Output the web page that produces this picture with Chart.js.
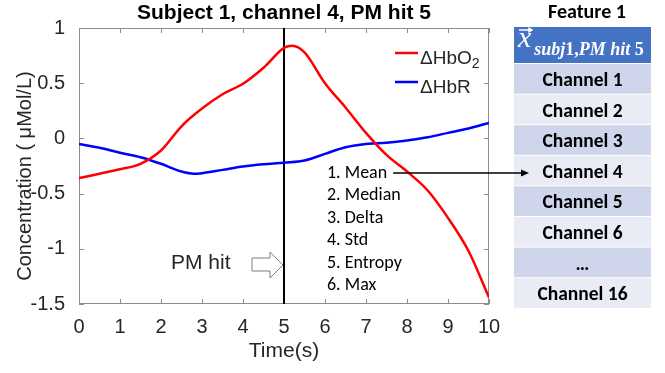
<!DOCTYPE html>
<html>
<head>
<meta charset="utf-8">
<script src="https://cdn.jsdelivr.net/npm/chart.js@4.4.1/dist/chart.umd.min.js"></script>
<style>
  html, body { margin: 0; padding: 0; background: #fff; }
  canvas { display: block; }
</style>
</head>
<body>
<canvas id="chart" width="665" height="373"></canvas>
<script>
"use strict";

// data
const timeHbO2 = [0, 0.5, 1, 1.5, 2, 2.5, 3, 3.5, 4, 4.5, 5, 5.2, 5.5, 6, 6.5, 7, 7.5, 8, 8.5, 9, 9.5, 10];
const valuesHbO2 = [-0.36, -0.32, -0.28, -0.23, -0.11, 0.11, 0.27, 0.40, 0.495, 0.64, 0.82, 0.84, 0.78, 0.50, 0.28, 0.05, -0.15, -0.30, -0.47, -0.72, -1.02, -1.44];
const timeHbR = [0, 0.5, 1, 1.5, 2, 2.5, 2.8, 3, 3.5, 4, 4.5, 5, 5.5, 6, 6.5, 7, 7.5, 8, 8.5, 9, 9.5, 10];
const valuesHbR = [-0.05, -0.085, -0.13, -0.17, -0.23, -0.30, -0.32, -0.315, -0.285, -0.255, -0.235, -0.22, -0.20, -0.14, -0.08, -0.05, -0.04, -0.02, 0.01, 0.05, 0.09, 0.14];
const xTicks = [0, 1, 2, 3, 4, 5, 6, 7, 8, 9, 10];
const yTicks = [-1.5, -1, -0.5, 0, 0.5, 1];
const hitTime = 5;

const chartTitle = "Subject 1, channel 4, PM hit 5";
const yTitle = "Concentration ( \u03bcMol/L)";
const legendItems = [
    { label: "\u0394HbO", sub: "2", color: "#ff0000" },
    { label: "\u0394HbR", sub: "", color: "#0000ff" }
];
const featureItems = ["1. Mean", "2. Median", "3. Delta", "4. Std", "5. Entropy", "6. Max"];
const tableTitle = "Feature 1";
const tableRows = ["Channel 1", "Channel 2", "Channel 3", "Channel 4", "Channel 5", "Channel 6", "\u2026", "Channel 16"];

const ARIAL = 'Arial, "Liberation Sans", sans-serif';
const CALIBRI = 'Carlito, Calibri, Lato, sans-serif';
const SERIF = '"Liberation Serif", "Times New Roman", serif';
const textColor = "#262626";

const toPoints = (xs, ys) => xs.map((t, i) => ({ x: t, y: ys[i] }));

const line = (ctx, x1, y1, x2, y2) => {
    ctx.beginPath();
    ctx.moveTo(x1, y1);
    ctx.lineTo(x2, y2);
    ctx.stroke();
};

const drawHeaderMath = (ctx, left, baseline) => {
    ctx.fillStyle = "#ffffff";
    ctx.strokeStyle = "#ffffff";
    ctx.textBaseline = "alphabetic";
    ctx.textAlign = "left";
    ctx.font = `italic 30px ${SERIF}`;
    ctx.fillText("x", left, baseline);
    const xw = ctx.measureText("x").width;
    // vector arrow over the x
    ctx.lineWidth = 1.5;
    line(ctx, left + 1, baseline - 17, left + xw + 1, baseline - 17);
    ctx.beginPath();
    ctx.moveTo(left + xw + 2, baseline - 17);
    ctx.lineTo(left + xw - 3, baseline - 20);
    ctx.lineTo(left + xw - 3, baseline - 14);
    ctx.closePath();
    ctx.fill();
    const parts = [
        ["subj", "italic bold"], ["1,", "bold"], ["PM", "italic bold"], [" ", "bold"],
        ["hit", "italic bold"], [" ", "bold"], ["5", "bold"]
    ];
    let px = left + xw + 3;
    parts.forEach(([s, st]) => {
        ctx.font = `${st} 18px ${SERIF}`;
        ctx.fillText(s, px, baseline + 8);
        px += ctx.measureText(s).width;
    });
};

const overlay = {
    id: "overlay",
    beforeDatasetsDraw(chart) {
        const { ctx, chartArea: a, scales: { x, y } } = chart;
        ctx.save();
        ctx.strokeStyle = "#8c8c8c";
        ctx.lineWidth = 1;
        ctx.strokeRect(a.left + 0.5, a.top + 0.5, a.right - a.left - 1, a.bottom - a.top - 1);
        x.ticks.forEach((t) => {
            const px = Math.round(x.getPixelForValue(t.value)) + 0.5;
            line(ctx, px, a.bottom, px, a.bottom - 5);
            line(ctx, px, a.top, px, a.top + 5);
        });
        y.ticks.forEach((t) => {
            const py = Math.round(y.getPixelForValue(t.value)) + 0.5;
            line(ctx, a.left, py, a.left + 5, py);
            line(ctx, a.right, py, a.right - 5, py);
        });
        // PM hit marker
        const hx = x.getPixelForValue(hitTime);
        ctx.strokeStyle = "#000000";
        ctx.lineWidth = 2;
        line(ctx, hx, a.top, hx, a.bottom);
        ctx.restore();
    },
    afterDatasetsDraw(chart) {
        const { ctx, chartArea: a, scales: { x } } = chart;
        ctx.save();

        // title
        ctx.fillStyle = "#000000";
        ctx.font = `bold 21px ${ARIAL}`;
        ctx.textAlign = "center";
        ctx.textBaseline = "alphabetic";
        ctx.fillText(chartTitle, (a.left + a.right) / 2, 19);

        // y axis title
        ctx.save();
        ctx.translate(31, 176);
        ctx.rotate(-Math.PI / 2);
        ctx.fillStyle = textColor;
        ctx.font = `20px ${ARIAL}`;
        ctx.fillText(yTitle, 0, 0);
        ctx.restore();

        // legend
        legendItems.forEach((item, i) => {
            const ly = 53 + i * 29;
            ctx.strokeStyle = item.color;
            ctx.lineWidth = 2.5;
            line(ctx, 395, ly, 418, ly);
            ctx.fillStyle = textColor;
            ctx.textAlign = "left";
            ctx.font = `19px ${ARIAL}`;
            ctx.fillText(item.label, 420, ly + 11);
            if (item.sub) {
                const w = ctx.measureText(item.label).width;
                ctx.font = `14px ${ARIAL}`;
                ctx.fillText(item.sub, 420 + w, ly + 15);
            }
        });

        // PM hit label and hollow arrow
        const hx = x.getPixelForValue(hitTime);
        ctx.fillStyle = textColor;
        ctx.font = `21px ${ARIAL}`;
        ctx.textAlign = "left";
        ctx.fillText("PM hit", 171, 269);
        ctx.beginPath();
        ctx.moveTo(hx - 32, 258);
        ctx.lineTo(hx - 14, 258);
        ctx.lineTo(hx - 14, 252);
        ctx.lineTo(hx - 1, 265);
        ctx.lineTo(hx - 14, 278);
        ctx.lineTo(hx - 14, 271);
        ctx.lineTo(hx - 32, 271);
        ctx.closePath();
        ctx.fillStyle = "#ffffff";
        ctx.fill();
        ctx.strokeStyle = "#7f7f7f";
        ctx.lineWidth = 1;
        ctx.stroke();

        // feature list
        ctx.fillStyle = "#000000";
        ctx.font = `18px ${CALIBRI}`;
        featureItems.forEach((s, i) => {
            ctx.fillText(s, 327, 178 + i * 22.4);
        });
        const mw = ctx.measureText(featureItems[0]).width;

        // table
        const tl = 514, tr = 651, tw = tr - tl;
        ctx.font = `bold 20px ${CALIBRI}`;
        ctx.textAlign = "center";
        ctx.fillText(tableTitle, 587, 18);
        ctx.fillStyle = "#4472c4";
        ctx.fillRect(tl, 27, tw, 36);
        drawHeaderMath(ctx, 518, 47);
        const rowTop = 64, rowH = 30.6;
        tableRows.forEach((s, i) => {
            const top = rowTop + i * rowH;
            ctx.fillStyle = i % 2 === 0 ? "#cfd5ea" : "#e9ebf5";
            ctx.fillRect(tl, top, tw, rowH - 1);
            ctx.fillStyle = "#000000";
            ctx.font = `bold 19.5px ${CALIBRI}`;
            ctx.textAlign = "center";
            ctx.fillText(s, (tl + tr) / 2, top + 22);
        });

        // arrow from Mean to the channel row
        const ay = 173;
        ctx.strokeStyle = "#000000";
        ctx.lineWidth = 1.5;
        line(ctx, 327 + mw + 6, ay, 522, ay);
        ctx.fillStyle = "#000000";
        ctx.beginPath();
        ctx.moveTo(529, ay);
        ctx.lineTo(521, ay - 3.5);
        ctx.lineTo(521, ay + 3.5);
        ctx.closePath();
        ctx.fill();

        ctx.restore();
    }
};

new Chart(document.getElementById("chart"), {
    type: "line",
    data: {
        datasets: [
            {
                label: "HbO2",
                data: toPoints(timeHbO2, valuesHbO2),
                borderColor: "#ff0000",
                borderWidth: 2.5,
                pointRadius: 0,
                cubicInterpolationMode: "monotone",
                fill: false
            },
            {
                label: "HbR",
                data: toPoints(timeHbR, valuesHbR),
                borderColor: "#0000ff",
                borderWidth: 2.5,
                pointRadius: 0,
                cubicInterpolationMode: "monotone",
                fill: false
            }
        ]
    },
    options: {
        responsive: false,
        animation: false,
        events: [],
        layout: { padding: { left: 0, top: 28, right: 176, bottom: 0 } },
        plugins: {
            legend: { display: false },
            title: { display: false },
            tooltip: { enabled: false }
        },
        scales: {
            x: {
                type: "linear",
                min: 0,
                max: 10,
                afterFit: (s) => { s.height = 69; },
                afterBuildTicks: (s) => { s.ticks = xTicks.map((v) => ({ value: v })); },
                grid: { display: false },
                border: { display: false },
                ticks: {
                    autoSkip: false,
                    maxRotation: 0,
                    padding: 3,
                    color: textColor,
                    font: { family: ARIAL, size: 20 },
                    callback: (v) => String(v)
                },
                title: {
                    display: true,
                    text: "Time(s)",
                    color: textColor,
                    font: { family: ARIAL, size: 21 },
                    padding: { top: 0, bottom: 9 }
                }
            },
            y: {
                type: "linear",
                min: -1.5,
                max: 1,
                afterFit: (s) => { s.width = 79; },
                afterBuildTicks: (s) => { s.ticks = yTicks.map((v) => ({ value: v })); },
                grid: { display: false },
                border: { display: false },
                ticks: {
                    autoSkip: false,
                    padding: 6,
                    color: textColor,
                    font: { family: ARIAL, size: 20 },
                    callback: (v) => String(v)
                },
                title: { display: false }
            }
        }
    },
    plugins: [overlay]
});
</script>
</body>
</html>
